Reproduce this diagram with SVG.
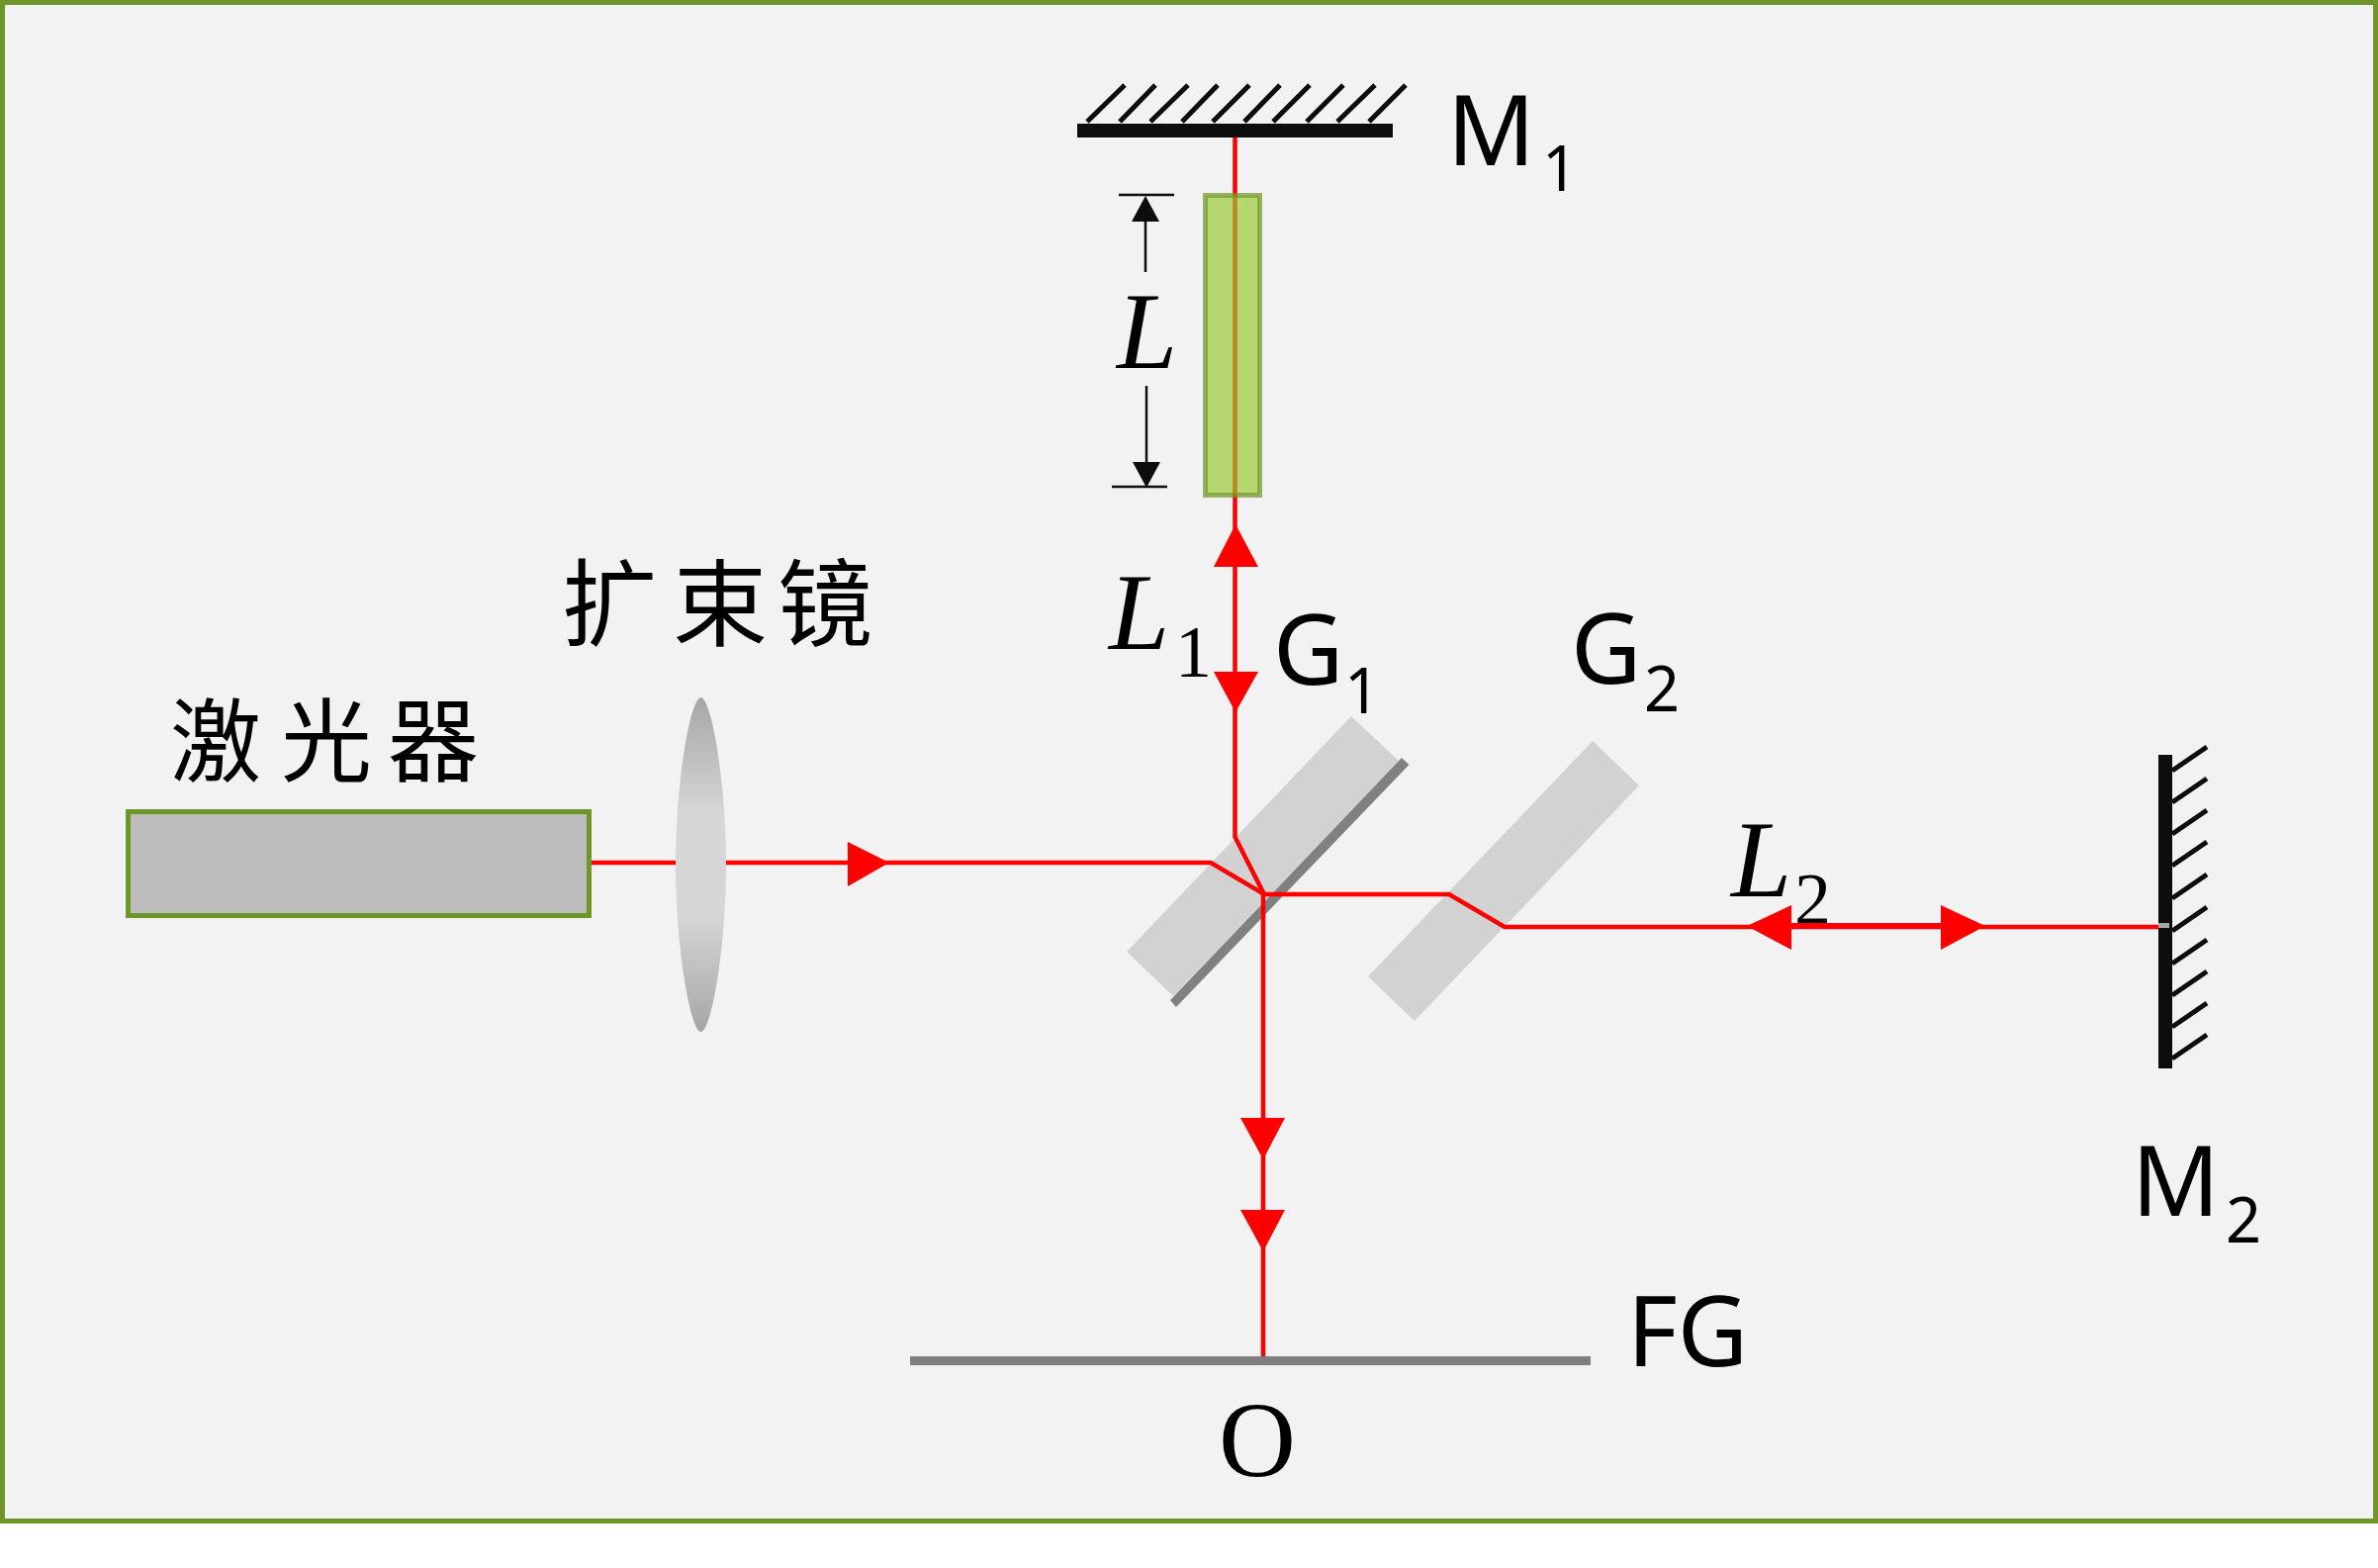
<svg xmlns="http://www.w3.org/2000/svg" width="2404" height="1585" viewBox="0 0 2404 1585">
<style>
.sans{font-family:"Noto Sans",sans-serif;fill:#000}
.big{font-size:98px}
.sub{font-size:63px}
.ital{font-family:"Liberation Serif",serif;font-style:italic;fill:#000;font-size:110px}
.ser{font-family:"Liberation Serif",serif;fill:#000}
.cjk{font-family:"Noto Sans CJK SC",sans-serif;fill:#000}
.ray{stroke:#f00;stroke-width:4.5;fill:none}
.head{fill:#f00}
.hatch{stroke:#0d0d0d;stroke-width:5;fill:none}
.dim{stroke:#0d0d0d;stroke-width:2.5;fill:none}
.dimh{fill:#0d0d0d}
.plate{fill:#d2d2d2}
</style>
<defs>
<linearGradient id="lensG" x1="0" y1="0" x2="0" y2="1">
<stop offset="0" stop-color="#a6a6a6"/>
<stop offset="0.35" stop-color="#d6d6d6"/>
<stop offset="0.65" stop-color="#d6d6d6"/>
<stop offset="1" stop-color="#a6a6a6"/>
</linearGradient>
</defs>
<rect x="2.5" y="2.5" width="2399" height="1535" fill="#f2f2f2" stroke="#6f9628" stroke-width="5"/>
<g id="G1">
<polygon class="plate" points="1366,724 1414,769 1186,1007 1139,962"/>
<polygon fill="#808080" points="1417,766 1424.5,773 1189,1018 1183,1011"/>
</g>
<g id="G2">
<polygon class="plate" points="1610,749 1657,794 1430,1032 1383,987"/>
</g>
<g id="label-L2">
<text class="ital" x="1750" y="906">L</text>
<text class="ser" font-size="74" x="1814" y="934">2</text>
</g>
<g id="connectors">
<path class="ray" d="M598 872H1224L1278 904M1248.500 132V846L1278 904M1278 904H1465L1521 937H2182M1277 904V1371"/>
<path stroke="#f00" stroke-width="6" fill="none" d="M1811 936H1962"/>
<polygon class="head" points="857,851 899,872 857,896"/>
<polygon class="head" points="1249,530 1272,573 1227,573"/>
<polygon class="head" points="1227,679 1272,679 1249,720"/>
<polygon class="head" points="1254,1130 1299,1130 1277,1172"/>
<polygon class="head" points="1254,1223 1299,1223 1277,1265"/>
<polygon class="head" points="1811,915 1811,960 1766,936"/>
<polygon class="head" points="1962,915 1962,960 2007,936"/>
</g>
<g id="laser">
<rect x="129.500" y="820.500" width="466" height="105" fill="#bcbcbc" stroke="#6f9628" stroke-width="5"/>
<text class="cjk" font-size="92" x="172" y="783">激</text>
<text class="cjk" font-size="92" x="284" y="783">光</text>
<text class="cjk" font-size="92" x="392" y="783">器</text>
</g>
<g id="lens">
<path fill="url(#lensG)" d="M708.500 705C719 705 734 790 734 874C734 958 719 1043 708.500 1043C698 1043 683 958 683 874C683 790 698 705 708.500 705Z"/>
<text class="cjk" font-size="96" x="568" y="645">扩</text>
<text class="cjk" font-size="96" x="680" y="645">束</text>
<text class="cjk" font-size="96" x="786" y="645">镜</text>
</g>
<g id="M1">
<rect x="1089" y="125" width="319" height="14" fill="#0d0d0d"/>
<path class="hatch" d="M1099 123L1137 86M1132 123L1168 86M1163 123L1201 86M1195 123L1231 86M1226 123L1263 86M1258 123L1294 86M1287 123L1324 86M1321 123L1358 86M1352 123L1390 86M1384 123L1421 86"/>
<text class="sans big" x="1463" y="167">M</text>
<text class="sans sub" x="1559" y="193">1</text>
</g>
<g id="M2">
<rect x="2182" y="763" width="14" height="317" fill="#0d0d0d"/>
<rect x="2182" y="933" width="11" height="5" fill="#a6a6a6"/>
<path class="hatch" d="M2196 779L2231 755M2196 811L2231 787M2196 843L2231 819M2196 875L2231 851M2196 908L2231 884M2196 941L2231 917M2196 974L2231 950M2196 1006L2231 982M2196 1038L2231 1014M2196 1070L2231 1046"/>
<text class="sans big" x="2155" y="1229">M</text>
<text class="sans sub" x="2250" y="1256">2</text>
</g>
<g id="sample">
<rect x="1218.500" y="197.500" width="55" height="303" fill="#99c832" fill-opacity=".68" stroke="#6f9628" stroke-opacity=".7" stroke-width="5"/>
</g>
<g id="dimension-L">
<path class="dim" d="M1131 197H1187M1158 224V275M1159 390V467M1124 492H1180"/>
<polygon class="dimh" points="1158,198 1172,224 1144,224"/>
<polygon class="dimh" points="1145,467 1173,467 1159,493"/>
<text class="ital" x="1129" y="372">L</text>
</g>
<g id="label-L1">
<text class="ital" x="1121" y="656">L</text>
<text class="ser" font-size="74" x="1188" y="684">1</text>
</g>
<g id="label-G1">
<text class="sans big" x="1287" y="692">G</text>
<text class="sans sub" x="1359" y="721">1</text>
</g>
<g id="label-G2">
<text class="sans big" x="1588" y="691">G</text>
<text class="sans sub" x="1662" y="719">2</text>
</g>
<g id="screen">
<rect x="920" y="1371" width="688" height="9" fill="#7f7f7f"/>
<text class="sans big" x="1645" y="1381">FG</text>
<text class="ser" font-size="108" x="1232" y="1492">O</text>
</g>
</svg>
